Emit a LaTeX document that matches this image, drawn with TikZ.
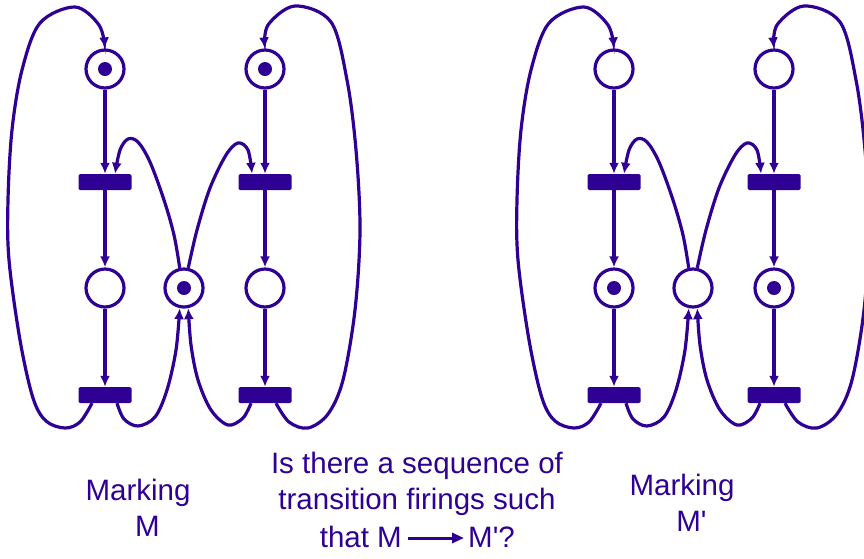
\documentclass[tikz,border=0pt]{standalone}
\usepackage{fontspec}
\setmainfont{Liberation Sans}
\usepackage{xcolor}
\definecolor{netindigo}{HTML}{2E0094}
\usepackage{tikz}
\usetikzlibrary{positioning, arrows.meta}

\begin{document}
\begin{tikzpicture}[x=1pt, y=-1pt]
    \tikzstyle{place} = [circle, draw=netindigo, line width=3.2pt, minimum size=38pt, inner sep=0pt]
    \tikzstyle{marked} = [path picture={\fill[netindigo] (path picture bounding box.center) circle (7pt);}]
    \tikzstyle{trans} = [rectangle, fill=netindigo, minimum width=53pt, minimum height=16pt, inner sep=0pt, rounded corners=1.5pt]
    \tikzstyle{netarc} = [draw=netindigo, line width=3.2pt, -{Latex[length=11pt,width=10pt]}]
    \tikzstyle{curvy} = [smooth, tension=0.55]
    \tikzstyle{caption} = [font=\fontsize{29.5}{36}\selectfont, text=netindigo, inner sep=0pt, align=center]

    \useasboundingbox (0,0) rectangle (864,558);

    % marking M
    \node [place, marked] (lp1) at (105,69) {};
    \node [place, marked] (lp2) at ([xshift=160pt]lp1) {};
    \node [trans] (lt1) at ([yshift=-113pt]lp1) {};
    \node [trans] (lt2) at ([yshift=-113pt]lp2) {};
    \node [place] (lp3) at ([yshift=-106pt]lt1) {};
    \node [place, marked] (lp4) at ([xshift=79pt]lp3) {};
    \node [place] (lp5) at ([yshift=-106pt]lt2) {};
    \node [trans] (lt3) at ([yshift=-107pt]lp3) {};
    \node [trans] (lt4) at ([yshift=-107pt]lp5) {};

    \draw [netarc] (lp1) -- (lt1);
    \draw [netarc] (lt1) -- (lp3);
    \draw [netarc] (lp3) -- (lt3);
    \draw [netarc] (lp2) -- (lt2);
    \draw [netarc] (lt2) -- (lp5);
    \draw [netarc] (lp5) -- (lt4);

    \draw [netarc] plot[curvy] coordinates {([xshift=-13pt]lt3.south) (80,422) (65,428) (46,421) (33,398) (20,340) (9,260) (8,200) (12,130) (22,70) (40,23) (75,7) (99,25) (lp1.north)};
    \draw [netarc] plot[curvy] coordinates {([xshift=12pt]lt3.south) (124,419) (138,426) (155,417) (167,390) (176,350) (lp4.-102)};
    \draw [netarc] plot[curvy] coordinates {([xshift=-14pt]lt4.south) (243,418) (228,425) (211,410) (198,380) (191,345) (lp4.-78)};
    \draw [netarc] plot[curvy] coordinates {([xshift=11pt]lt4.south) (289,422) (308,428) (328,414) (343,380) (355,310) (360,230) (356,150) (347,80) (331,22) (295,6) (268,25) (lp2.north)};
    \draw [netarc] plot[curvy] coordinates {(lp4.102) (174,235) (164,200) (150,162) (138,142) (128,139) (120,150) ([xshift=10pt]lt1.north)};
    \draw [netarc] plot[curvy] coordinates {(lp4.78) (197,230) (210,188) (226,155) (238,143) (248,150) ([xshift=-13pt]lt2.north)};

    % marking M'
    \begin{scope}[xshift=509pt]
    \node [place] (rp1) at (105,69) {};
    \node [place] (rp2) at ([xshift=160pt]rp1) {};
    \node [trans] (rt1) at ([yshift=-113pt]rp1) {};
    \node [trans] (rt2) at ([yshift=-113pt]rp2) {};
    \node [place, marked] (rp3) at ([yshift=-106pt]rt1) {};
    \node [place] (rp4) at ([xshift=79pt]rp3) {};
    \node [place, marked] (rp5) at ([yshift=-106pt]rt2) {};
    \node [trans] (rt3) at ([yshift=-107pt]rp3) {};
    \node [trans] (rt4) at ([yshift=-107pt]rp5) {};

    \draw [netarc] (rp1) -- (rt1);
    \draw [netarc] (rt1) -- (rp3);
    \draw [netarc] (rp3) -- (rt3);
    \draw [netarc] (rp2) -- (rt2);
    \draw [netarc] (rt2) -- (rp5);
    \draw [netarc] (rp5) -- (rt4);

    \draw [netarc] plot[curvy] coordinates {([xshift=-13pt]rt3.south) (80,422) (65,428) (46,421) (33,398) (20,340) (9,260) (8,200) (12,130) (22,70) (40,23) (75,7) (99,25) (rp1.north)};
    \draw [netarc] plot[curvy] coordinates {([xshift=12pt]rt3.south) (124,419) (138,426) (155,417) (167,390) (176,350) (rp4.-102)};
    \draw [netarc] plot[curvy] coordinates {([xshift=-14pt]rt4.south) (243,418) (228,425) (211,410) (198,380) (191,345) (rp4.-78)};
    \draw [netarc] plot[curvy] coordinates {([xshift=11pt]rt4.south) (289,422) (308,428) (328,414) (343,380) (355,310) (360,230) (356,150) (347,80) (331,22) (295,6) (268,25) (rp2.north)};
    \draw [netarc] plot[curvy] coordinates {(rp4.102) (174,235) (164,200) (150,162) (138,142) (128,139) (120,150) ([xshift=10pt]rt1.north)};
    \draw [netarc] plot[curvy] coordinates {(rp4.78) (197,230) (210,188) (226,155) (238,143) (248,150) ([xshift=-13pt]rt2.north)};
    \end{scope}

    % texts
    \node [caption] (markm) at (138,508) {Marking\\\hspace*{19pt}M};
    \node [caption] (markmp) at (682,503) {Marking\\\hspace*{19pt}M\textquotesingle};
    \node [caption] (question) at (417,484) {Is there a sequence of\\transition firings such};
    \node [caption, anchor=base east] (thatm) at (402,547) {that M};
    \node [caption, anchor=base west] (mprime) at (468,547) {M\textquotesingle?};
    \draw [draw=netindigo, line width=3pt, -{Triangle[length=12pt,width=10pt]}] ([xshift=6pt,yshift=9pt]thatm.base east) -- ([xshift=-4pt,yshift=9pt]mprime.base west);
\end{tikzpicture}
\end{document}
